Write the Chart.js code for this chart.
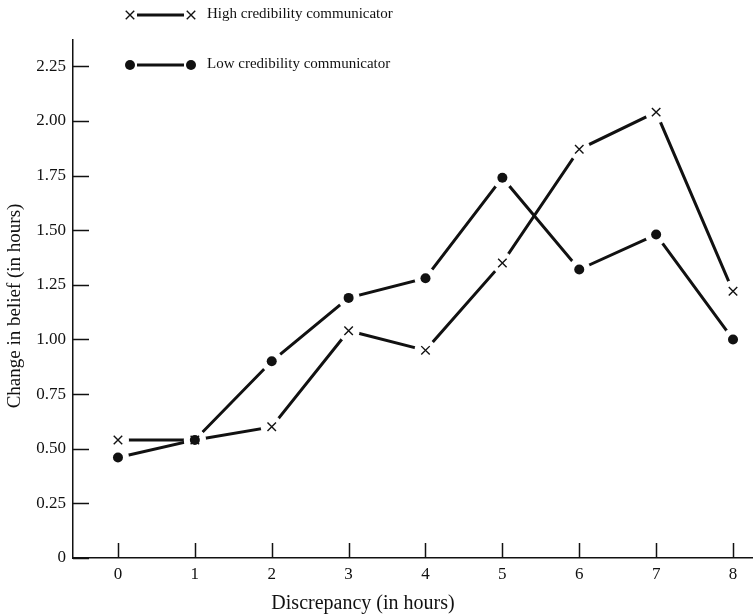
<!DOCTYPE html>
<html>
<head>
<meta charset="utf-8">
<title>Change in belief vs discrepancy</title>
<script src="https://cdn.jsdelivr.net/npm/chart.js@4.4.1/dist/chart.umd.min.js"></script>
<style>
  html, body { margin: 0; padding: 0; background: #fff; }
  #wrap { position: relative; width: 753px; height: 614px; }
</style>
</head>
<body>
<div id="wrap"><canvas id="chart" width="753" height="614"></canvas></div>
<script>
// values
const discrepancy = [0, 1, 2, 3, 4, 5, 6, 7, 8];
const highCredibility = [0.54, 0.54, 0.60, 1.04, 0.95, 1.35, 1.87, 2.04, 1.22];
const lowCredibility = [0.46, 0.54, 0.90, 1.19, 1.28, 1.74, 1.32, 1.48, 1.00];
const xTicks = [0, 1, 2, 3, 4, 5, 6, 7, 8];
const yTicks = [0, 0.25, 0.5, 0.75, 1.0, 1.25, 1.5, 1.75, 2.0, 2.25];
const seriesNames = ['High credibility communicator', 'Low credibility communicator'];
const xTitle = 'Discrepancy (in hours)';
const yTitle = 'Change in belief (in hours)';

const SERIF = "'Liberation Serif', 'DejaVu Serif', serif";
const INK = '#111';

const toPoints = (ys) => discrepancy.map((x, i) => ({ x: x, y: ys[i] }));

// inward tick marks, like the printed figure
const innerTicks = {
  id: 'innerTicks',
  afterDraw(chart) {
    const { ctx, chartArea, scales } = chart;
    ctx.save();
    ctx.strokeStyle = INK;
    ctx.lineWidth = 1.5;
    ctx.beginPath();
    yTicks.forEach(v => {
      const py = Math.round(scales.y.getPixelForValue(v)) + 0.5;
      ctx.moveTo(chartArea.left, py);
      ctx.lineTo(chartArea.left + 16, py);
    });
    xTicks.forEach(v => {
      const px = Math.round(scales.x.getPixelForValue(v)) + 0.5;
      ctx.moveTo(px, chartArea.bottom);
      ctx.lineTo(px, chartArea.bottom - 15);
    });
    ctx.stroke();
    ctx.restore();
  }
};

// white gap round each marker, then the marker again on top
const markerGaps = {
  id: 'markerGaps',
  afterDraw(chart) {
    const { ctx } = chart;
    const metas = chart.data.datasets.map((ds, i) => chart.getDatasetMeta(i));
    ctx.save();
    ctx.fillStyle = '#ffffff';
    metas.forEach(meta => {
      meta.data.forEach(pt => {
        ctx.beginPath();
        ctx.arc(pt.x, pt.y, 11, 0, Math.PI * 2);
        ctx.fill();
      });
    });
    ctx.restore();
    metas.forEach(meta => {
      meta.data.forEach(pt => pt.draw(ctx, chart.chartArea));
    });
  }
};

// legend: marker — line — marker, then the name
const sampleLegend = {
  id: 'sampleLegend',
  afterDraw(chart) {
    const { ctx } = chart;
    const rows = [15, 65];
    ctx.save();
    chart.data.datasets.forEach((ds, i) => {
      const y = rows[i];
      const opts = {
        pointStyle: ds.pointStyle,
        radius: ds.pointRadius,
        borderWidth: ds.pointBorderWidth
      };
      ctx.strokeStyle = INK;
      ctx.fillStyle = INK;
      Chart.helpers.drawPoint(ctx, opts, 130, y);
      Chart.helpers.drawPoint(ctx, opts, 191, y);
      ctx.lineWidth = 3;
      ctx.beginPath();
      ctx.moveTo(137, y);
      ctx.lineTo(184, y);
      ctx.stroke();
      ctx.font = '15px ' + SERIF;
      ctx.textBaseline = 'middle';
      ctx.textAlign = 'left';
      ctx.fillText(ds.label, 207, y - 1);
    });
    ctx.restore();
  }
};

// axis titles, placed where the printed ones sit
const axisTitles = {
  id: 'axisTitles',
  afterDraw(chart) {
    const { ctx } = chart;
    ctx.save();
    ctx.fillStyle = INK;
    ctx.textAlign = 'center';
    ctx.textBaseline = 'middle';
    ctx.font = '20px ' + SERIF;
    ctx.fillText(xTitle, 363, 604);
    ctx.font = '19px ' + SERIF;
    ctx.translate(15, 306);
    ctx.rotate(-Math.PI / 2);
    ctx.fillText(yTitle, 0, 0);
    ctx.restore();
  }
};

new Chart(document.getElementById('chart'), {
  type: 'line',
  data: {
    datasets: [
      {
        label: seriesNames[0],
        data: toPoints(highCredibility),
        borderColor: INK,
        backgroundColor: INK,
        borderWidth: 3,
        pointStyle: 'crossRot',
        pointRadius: 6,
        pointBorderWidth: 1.4,
        pointBorderColor: INK,
        tension: 0
      },
      {
        label: seriesNames[1],
        data: toPoints(lowCredibility),
        borderColor: INK,
        backgroundColor: INK,
        borderWidth: 3,
        pointStyle: 'circle',
        pointRadius: 5,
        pointBorderWidth: 0,
        pointBackgroundColor: INK,
        tension: 0
      }
    ]
  },
  options: {
    responsive: false,
    animation: false,
    layout: { autoPadding: false, padding: { top: 40, left: 0, right: 0, bottom: 0 } },
    plugins: {
      legend: { display: false },
      tooltip: { enabled: false }
    },
    scales: {
      x: {
        type: 'linear',
        min: -0.585,
        max: 8.26,
        afterBuildTicks: (scale) => { scale.ticks = xTicks.map(v => ({ value: v })); },
        afterFit: (scale) => { scale.height = 56; },
        grid: { display: true, drawOnChartArea: false, drawTicks: false },
        border: { display: true, color: INK, width: 1.5 },
        ticks: {
          color: INK,
          padding: 6,
          font: { family: SERIF, size: 17 },
          callback: (v) => String(v)
        },
        title: { display: false }
      },
      y: {
        type: 'linear',
        min: 0,
        max: 2.37,
        afterBuildTicks: (scale) => { scale.ticks = yTicks.map(v => ({ value: v })); },
        afterFit: (scale) => { scale.width = 73; },
        grid: { display: true, drawOnChartArea: false, drawTicks: false },
        border: { display: true, color: INK, width: 1.5 },
        ticks: {
          color: INK,
          padding: 7,
          font: { family: SERIF, size: 17 },
          callback: (v) => v === 0 ? '0' : v.toFixed(2)
        },
        title: { display: false }
      }
    }
  },
  plugins: [markerGaps, innerTicks, sampleLegend, axisTitles]
});
</script>
</body>
</html>
